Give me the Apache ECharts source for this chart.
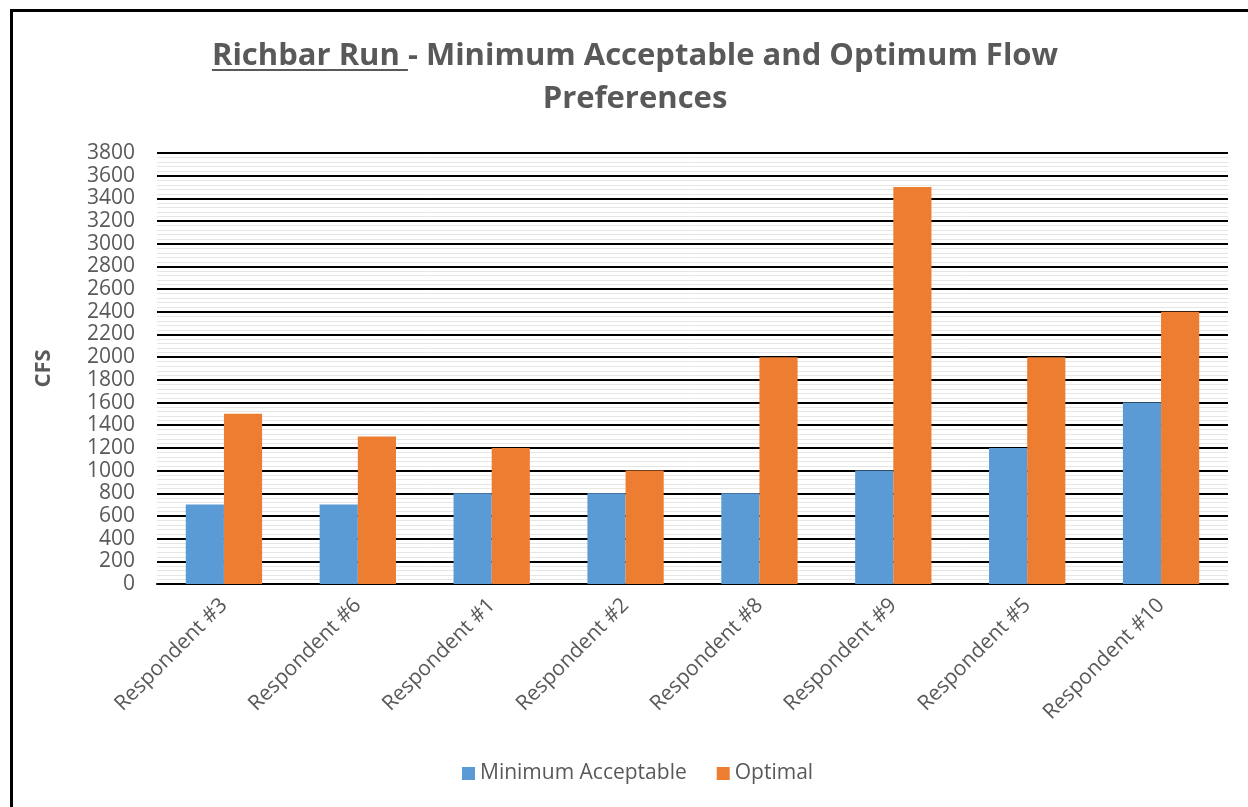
<!DOCTYPE html>
<html>
<head>
<meta charset="utf-8">
<script src="https://cdn.jsdelivr.net/npm/echarts@6/dist/echarts.min.js"></script>
<style>html,body{margin:0;padding:0;background:#fff}#c{width:1248px;height:807px}</style>
</head>
<body>
<div id="c"></div>
<script>
const categories = ['Respondent #3','Respondent #6','Respondent #1','Respondent #2','Respondent #8','Respondent #9','Respondent #5','Respondent #10'];
const minimumAcceptable = [700, 700, 800, 800, 800, 1000, 1200, 1600];
const optimal = [1500, 1300, 1200, 1000, 2000, 3500, 2000, 2400];
const titleUnderlined = 'Richbar Run ';
const titleRest = '- Minimum Acceptable and Optimum Flow';
const titleLine2 = 'Preferences';

const FONT = '"Open Sans", "Noto Sans", sans-serif';
const TITLE_SIZE = 31;
const titleFont = 'bold ' + TITLE_SIZE + 'px ' + FONT;
const cv = document.createElement('canvas').getContext('2d');
cv.font = titleFont;
const wU = cv.measureText(titleUnderlined).width;
const wAll = cv.measureText(titleUnderlined + titleRest).width;
const cx = 635, y1 = 56, y2 = 99;
const startX = cx - wAll / 2;

const chart = echarts.init(document.getElementById('c'));
chart.setOption({
  animation: false,
  color: ['#5B9BD5', '#ED7D31'],
  grid: { left: 157, right: 20, top: 153, bottom: 223 },
  graphic: [
    { type: 'rect', shape: { x: 11.5, y: 10.5, width: 1400, height: 1000 }, style: { fill: 'none', stroke: '#000', lineWidth: 3 }, silent: true },
    { type: 'text', x: startX, y: y1, style: { text: titleUnderlined + titleRest, font: titleFont, fill: '#595959', textAlign: 'left', textVerticalAlign: 'middle' } },
    { type: 'text', x: cx, y: y2, style: { text: titleLine2, font: titleFont, fill: '#595959', textAlign: 'center', textVerticalAlign: 'middle' } },
    { type: 'line', shape: { x1: startX, y1: y1 + 14, x2: startX + wU, y2: y1 + 14 }, style: { stroke: '#595959', lineWidth: 2 } }
  ],
  legend: {
    bottom: 18, left: 457, itemWidth: 13, itemHeight: 13, itemGap: 30,
    icon: 'rect',
    textStyle: { color: '#595959', fontSize: 21, fontFamily: FONT }
  },
  xAxis: {
    type: 'category', data: categories,
    axisLine: { lineStyle: { color: '#000', width: 2 } },
    axisTick: { show: false },
    axisLabel: { rotate: 45, color: '#595959', fontSize: 21, fontFamily: FONT, interval: 0, margin: 18 }
  },
  yAxis: {
    type: 'value', min: 0, max: 3800, interval: 200,
    name: 'CFS', nameLocation: 'middle', nameRotate: 90, nameGap: 102,
    nameTextStyle: { color: '#595959', fontSize: 22, fontWeight: 'bold', fontFamily: FONT },
    axisLine: { show: false }, axisTick: { show: false },
    axisLabel: { color: '#595959', fontSize: 21, fontFamily: FONT, margin: 22, formatter: v => String(v) },
    splitLine: { lineStyle: { color: '#000', width: 2 } },
    minorTick: { show: false, splitNumber: 5 },
    minorSplitLine: { show: true, lineStyle: { color: '#e6e6e6', width: 1 } }
  },
  series: [
    { name: 'Minimum Acceptable', type: 'bar', data: minimumAcceptable, barGap: '0%', barCategoryGap: '43%' },
    { name: 'Optimal', type: 'bar', data: optimal, barGap: '0%', barCategoryGap: '43%' }
  ]
});
</script>
</body>
</html>
